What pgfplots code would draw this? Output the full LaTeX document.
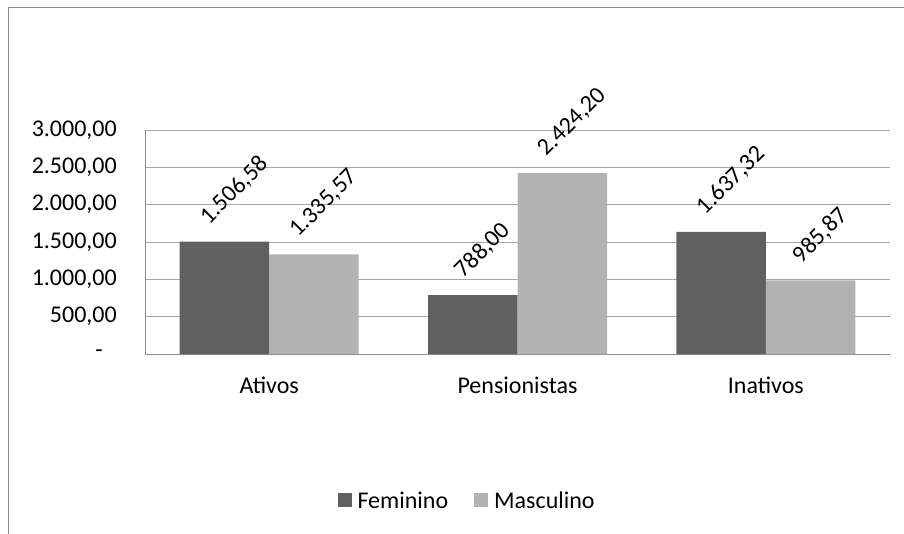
\documentclass[border=0pt]{standalone}
\usepackage{pgfplots}
\pgfplotsset{compat=1.18}
\usepackage{pgfplotstable}
\usepackage{graphicx}
\usepackage{fontspec}
\setmainfont{Carlito}
\definecolor{fem}{HTML}{606060}
\definecolor{mas}{HTML}{B2B2B2}
\definecolor{gridc}{HTML}{A6A6A6}
\definecolor{axc}{HTML}{8C8C8C}
\definecolor{framec}{HTML}{8C8C8C}
\newcommand{\cf}{\fontsize{24}{29}\selectfont}
\pgfplotstableread{
x fem femlab mas maslab
0 1506.58 1.506,58 1335.57 1.335,57
1 788.00 788,00 2424.20 2.424,20
2 1637.32 1.637,32 985.87 985,87
}\data
\begin{document}
\begin{tikzpicture}[x=1pt,y=1pt]
\useasboundingbox (0,0) rectangle (904,-533);
\draw[draw=framec, line width=1pt] (8.5,-700) -- (8.5,-7.5) -- (1000,-7.5);
\begin{axis}[
  at={(145pt,-354pt)}, anchor=south west,
  scale only axis, width=745pt, height=224pt,
  ybar=0pt, bar width=89.5pt,
  xmin=-0.5, xmax=2.5, ymin=0, ymax=3000,
  xtick={0,1,2}, xticklabels={Ativos,Pensionistas,Inativos},
  ytick={0,500,1000,1500,2000,2500,3000},
  yticklabels={{-\hspace*{14pt}},{500,00},{1.000,00},{1.500,00},{2.000,00},{2.500,00},{3.000,00}},
  axis x line*=bottom, axis y line*=left,
  axis line style={draw=axc, line width=1pt, -},
  ymajorgrids, grid style={draw=gridc, line width=1pt},
  major tick length=0pt,
  xticklabel style={font=\cf, anchor=base, yshift=-39pt, inner sep=0pt},
  yticklabel style={font=\cf, anchor=east, xshift=-28pt, inner sep=0pt},
  point meta=explicit symbolic,
  nodes near coords={\rotatebox{45}{\pgfplotspointmeta}},
  nodes near coords style={font=\cf, anchor=south, xshift=10pt, yshift=14pt, inner sep=0pt, text=black},
  legend columns=2,
  legend style={at={(0.431,-0.656)}, anchor=center, draw=none, font=\cf,
    nodes={inner sep=0pt},
    /tikz/every odd column/.append style={column sep=6pt},
    /tikz/every even column/.append style={column sep=26pt}},
  legend image code/.code={\fill[#1] (0pt,-6pt) rectangle (14pt,8pt);},
]
\addplot[fill=fem, draw=none] table[x=x, y=fem, meta=femlab] {\data};
\addplot[fill=mas, draw=none] table[x=x, y=mas, meta=maslab] {\data};
\legend{Feminino, Masculino}
\end{axis}
\end{tikzpicture}
\end{document}
